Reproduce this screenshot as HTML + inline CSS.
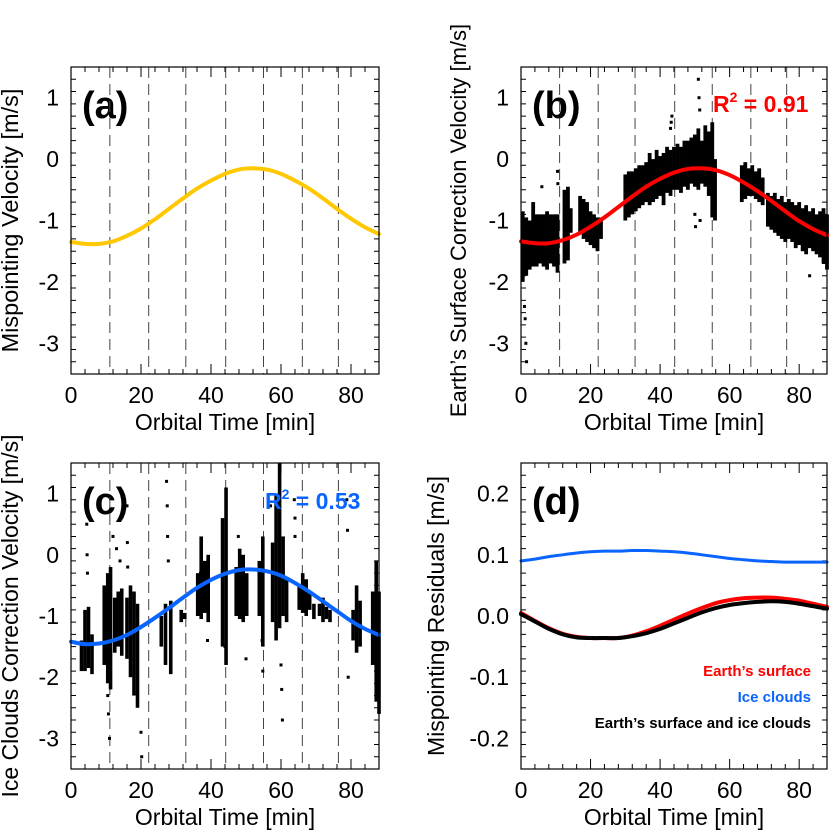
<!DOCTYPE html>
<html><head><meta charset="utf-8">
<style>
html,body{margin:0;padding:0;background:#fff;}
svg{display:block;font-family:"Liberation Sans",Arial,sans-serif;}
</style></head>
<body>
<svg id="fig" width="836" height="837" viewBox="0 0 836 837" xmlns="http://www.w3.org/2000/svg"></svg>
<script>
// ---- data ----
const tGrid = [0,4,8,12,16,20,24,28,32,36,40,44,48,52,56,60,64,68,72,76,80,84,88];
const mispointA = [-1.35,-1.38,-1.38,-1.34,-1.25,-1.13,-0.98,-0.81,-0.64,-0.48,-0.35,-0.24,-0.17,-0.15,-0.17,-0.24,-0.35,-0.48,-0.64,-0.81,-0.97,-1.11,-1.22];
const fitB = [-1.34,-1.37,-1.37,-1.32,-1.23,-1.10,-0.95,-0.78,-0.61,-0.45,-0.32,-0.22,-0.16,-0.15,-0.18,-0.26,-0.38,-0.52,-0.68,-0.85,-1.01,-1.14,-1.24];
const fitC = [-1.42,-1.46,-1.45,-1.40,-1.31,-1.18,-1.03,-0.87,-0.70,-0.54,-0.41,-0.31,-0.25,-0.24,-0.27,-0.34,-0.46,-0.60,-0.76,-0.92,-1.08,-1.21,-1.31];
const resSurface = [0.005,-0.008,-0.020,-0.029,-0.034,-0.036,-0.036,-0.036,-0.032,-0.025,-0.016,-0.006,0.004,0.013,0.021,0.026,0.029,0.030,0.030,0.028,0.025,0.020,0.015];
const resIce = [0.090,0.093,0.097,0.100,0.103,0.105,0.106,0.106,0.107,0.107,0.106,0.105,0.103,0.100,0.097,0.094,0.092,0.090,0.089,0.088,0.088,0.088,0.088];
const resBoth = [0.003,-0.009,-0.021,-0.030,-0.035,-0.036,-0.036,-0.036,-0.033,-0.028,-0.021,-0.012,-0.003,0.006,0.013,0.018,0.021,0.023,0.024,0.023,0.020,0.016,0.012];
const orbitMarks = [11.1,22.2,32.8,44.2,55.0,66.1,76.4];
// scatter envelopes panel (b): time, low, high
const binT_B = [0.5,1.5,2.5,3.5,4.5,5.5,6.5,7.5,8.5,9.5,10.5,12.5,13.5,14.3,17,18,19,20,21,22,23,30,31,32,33,34,35,36,37,38,39,40,41,42,43,44,45,46,47,48,49,50,51,52,53,54,55,55.8,63.5,64.5,65.5,66.5,67.5,68.5,69.5,71,72,73,74,75,76,77,78,79,80,81,82,83,84,85,86,87,88];
const binLo_B = [-2.0,-1.9,-1.8,-1.75,-1.75,-1.7,-1.75,-1.8,-1.7,-1.75,-1.85,-1.7,-1.65,-1.2,-1.2,-1.3,-1.35,-1.4,-1.45,-1.5,-1.3,-1.0,-0.95,-0.9,-0.85,-0.8,-0.75,-0.7,-0.75,-0.7,-0.65,-0.6,-0.75,-0.55,-0.6,-0.5,-0.5,-0.55,-0.45,-0.5,-0.4,-0.45,-0.5,-0.4,-0.45,-0.6,-0.95,-1.0,-0.7,-0.65,-0.6,-0.6,-0.65,-0.7,-0.75,-1.1,-1.15,-1.2,-1.25,-1.3,-1.35,-1.3,-1.35,-1.45,-1.4,-1.5,-1.55,-1.45,-1.5,-1.55,-1.6,-1.7,-1.8];
const binHi_B = [-0.85,-0.95,-1.0,-0.7,-0.9,-0.9,-0.9,-0.85,-0.9,-0.9,-0.9,-0.5,-0.45,-0.8,-0.6,-0.65,-0.7,-0.85,-0.9,-0.95,-0.95,-0.25,-0.2,-0.2,-0.15,-0.1,-0.1,-0.05,0.1,0.0,0.15,0.05,0.1,0.2,0.15,0.2,0.25,0.2,0.3,0.3,0.35,0.4,0.5,0.3,0.55,0.45,0.6,0.0,-0.1,-0.05,-0.15,-0.1,-0.2,-0.15,-0.3,-0.55,-0.6,-0.55,-0.65,-0.6,-0.7,-0.65,-0.7,-0.75,-0.7,-0.8,-0.75,-0.85,-0.8,-0.9,-0.85,-0.8,-0.9];
const outT_B = [1,1.2,1.4,1.6,6,10.5,10.6,35,43,43.2,43.4,50,50.2,51,51.2,51.4,51.5,83];
const outV_B = [-2.4,-2.6,-3.0,-3.3,-0.45,-0.2,-0.4,-0.5,0.5,0.6,0.7,-0.9,-1.1,1.3,1.0,0.8,-1.0,-1.9];
// panel (c) columns: time, low, high
const binT_C = [3,4,5,6,9.5,10.5,11.3,12.5,13.5,14.5,16,17,18,19,25.8,27,28.5,31.5,32.5,36.2,37.2,38.2,39.2,43.3,44.3,47.2,48.2,49.2,50.2,53.8,54.8,57.6,58.6,59.6,60.6,61.6,65.2,66.2,67.2,68.2,69.4,71,72,73,74,80.6,81.6,82.6,86.2,87.2,88];
const binLo_C = [-1.9,-1.9,-1.85,-1.95,-1.8,-2.1,-2.2,-1.6,-1.5,-1.65,-1.7,-2.0,-2.3,-2.5,-1.5,-1.8,-1.95,-1.1,-1.05,-1.0,-1.05,-0.95,-1.1,-1.5,-1.8,-1.0,-1.05,-1.1,-1.0,-1.0,-1.5,-1.1,-1.4,-1.2,-1.0,-1.1,-0.9,-0.95,-1.0,-0.9,-1.05,-1.0,-1.1,-1.05,-1.1,-1.4,-1.6,-1.5,-1.8,-2.4,-2.6];
const binHi_C = [-1.4,-0.9,-0.85,-1.3,-0.5,-0.3,-0.2,-0.7,-0.6,-0.55,-0.7,-0.5,-0.6,-0.8,-1.0,-0.8,-0.75,-0.9,-0.95,-0.3,0.3,-0.1,0.0,0.6,1.1,-0.2,0.1,0.0,-0.3,-0.1,0.3,0.2,1.0,1.5,0.3,-0.4,-0.5,-0.3,-0.4,-0.6,-0.8,-0.8,-0.7,-0.85,-0.9,-0.9,-0.5,-0.75,-0.6,-0.1,-0.6];
const outT_C = [4.5,4.6,4.7,10.5,10.7,11,12,13,14,16,16.1,16.2,20,20.2,27.3,27.5,27.6,27.8,37,39,44,47.8,50,54.6,54.8,57,60,60.2,60.4,63.8,64,64,78.8,79,79.2];
const outV_C = [0.5,0.0,-0.3,-2.3,-2.6,-3.0,0.3,0.1,-0.1,0.8,0.2,-0.2,-2.9,-3.3,1.2,0.8,0.3,-0.1,-0.3,-1.4,-1.5,0.3,-1.7,-1.4,-1.9,0.8,-1.8,-2.2,-2.7,0.9,0.6,0.3,0.9,0.4,-2.0];
const xTicks = [0,20,40,60,80];
const yTicksV = [1,0,-1,-2,-3];
const yTicksR = [0.2,0.1,0.0,-0.1,-0.2];
const yTickLabelsR = ['0.2','0.1','0.0','-0.1','-0.2'];

const NS='http://www.w3.org/2000/svg';
const svg=document.getElementById('fig');
function mk(tag,attrs,parent){const e=document.createElementNS(NS,tag);for(const k in attrs)e.setAttribute(k,attrs[k]);(parent||svg).appendChild(e);return e;}

function panel(id,L,R,T,B,ymin,ymax,yMajor,yMinor,yTickLabs,yTitle,label,titleOff,titleSize){
  const g=mk('g',{});
  
  
  const xmin=0,xmax=88;
  const sx=v=>L+(v-xmin)/(xmax-xmin)*(R-L);
  const sy=v=>B-(v-ymin)/(ymax-ymin)*(B-T);
  let tk='';
  for(let v=0;v<=xmax+1e-9;v+=4){const x=sx(v);const len=(Math.abs(v%20)<1e-6)?10:5;tk+=`M${x},${B}v${-len}M${x},${T}v${len}`;}
  const n=Math.round((ymax-ymin)/yMinor);
  for(let i=0;i<=n;i++){const v=ymin+i*yMinor;const y=sy(v);const maj=yMajor.some(m=>Math.abs(m-v)<1e-6);const len=maj?10:5;tk+=`M${L},${y}h${len}M${R},${y}h${-len}`;}
  const ticks=mk('path',{d:tk,stroke:'#000','stroke-width':1,fill:'none'},g);
  
  
  xTicks.forEach(v=>{const t=mk('text',{x:sx(v),y:B+29,'font-size':23,'text-anchor':'middle'},g);t.textContent=v;
    
    });
  yMajor.forEach((v,i)=>{const t=mk('text',{x:L-12,y:sy(v)+8,'font-size':23,'text-anchor':'end'},g);t.textContent=yTickLabs[i];
    
    });
  const xt=mk('text',{x:(L+R)/2,y:B+56,'font-size':23,'text-anchor':'middle'},g);xt.textContent='Orbital Time [min]';
  
  
  const yt=mk('text',{x:0,y:0,'font-size':titleSize,'text-anchor':'middle',transform:`translate(${L-titleOff},${(T+B)/2}) rotate(-90)`},g);yt.textContent=yTitle;
  
  
  const lb=mk('text',{x:L+11,y:T+51,'font-size':38,'font-weight':'bold'},g);lb.textContent=label;
  
  
  return {g,sx,sy,L,R,T,B};
}
function dashes(p){
  orbitMarks.forEach(m=>{const l=mk('line',{x1:p.sx(m),x2:p.sx(m),y1:p.T,y2:p.B,stroke:'#444','stroke-width':1,'stroke-dasharray':'11,6'},p.g);
    
    });
}
function curve(p,ys,color,w,name){
  const pts=tGrid.map((t,i)=>[p.sx(t),p.sy(ys[i])]);
  let d=`M${pts[0][0]},${pts[0][1]}`;
  for(let i=0;i<pts.length-1;i++){const p0=pts[Math.max(0,i-1)],p1=pts[i],p2=pts[i+1],p3=pts[Math.min(pts.length-1,i+2)];
    d+=`C${p1[0]+(p2[0]-p0[0])/6},${p1[1]+(p2[1]-p0[1])/6} ${p2[0]-(p3[0]-p1[0])/6},${p2[1]-(p3[1]-p1[1])/6} ${p2[0]},${p2[1]}`;}
  const c=mk('path',{d,stroke:color,'stroke-width':w,fill:'none','stroke-linecap':'round'},p.g);
  
  
}
function scatter(p,T,lo,hi,oT,oV,wid){
  const gg=mk('g',{fill:'#000'},p.g);
  
  
  T.forEach((t,i)=>{const y1=p.sy(hi[i]),y2=p.sy(lo[i]);
    const r=mk('rect',{x:p.sx(t)-wid/2,y:y1,width:wid,height:Math.max(1,y2-y1)},gg);
    
    });
  oT.forEach((t,i)=>{const r=mk('rect',{x:p.sx(t)-1.5,y:p.sy(oV[i])-1.5,width:3,height:3},gg);
    
    });
}
function frame(p){const f=mk('rect',{x:p.L,y:p.T,width:p.R-p.L,height:p.B-p.T,fill:'none',stroke:'#000','stroke-width':1.2},p.g);
  
  }

const yLabV=yTicksV.map(String);

// (a)
const pa=panel('a',71,379,67,374,-3.5,1.5,yTicksV,0.2,yLabV,'Mispointing Velocity [m/s]','(a)',53,23.5);
dashes(pa); curve(pa,mispointA,'#ffc800',4,'mispointing-curve'); frame(pa);
// (b)
const pb=panel('b',521,827,67,374,-3.5,1.5,yTicksV,0.2,yLabV,'Earth\u2019s Surface Correction Velocity [m/s]','(b)',55,22);
dashes(pb); scatter(pb,binT_B,binLo_B,binHi_B,outT_B,outV_B,3.8); curve(pb,fitB,'#ff0000',4,'surface-fit-curve'); frame(pb);
const r2b=mk('text',{x:713,y:112,'font-size':23,'font-weight':'bold',fill:'#ff0000'},pb.g);
r2b.innerHTML='R<tspan dy="-10" font-size="14">2</tspan><tspan dy="10"> = 0.91</tspan>';


// (c)
const pc=panel('c',71,379,463,769,-3.5,1.5,yTicksV,0.2,yLabV,'Ice Clouds Correction Velocity [m/s]','(c)',53,23);
dashes(pc); scatter(pc,binT_C,binLo_C,binHi_C,outT_C,outV_C,3.6); curve(pc,fitC,'#0a64ff',4,'ice-fit-curve'); frame(pc);
const r2c=mk('text',{x:265,y:509,'font-size':23,'font-weight':'bold',fill:'#0a64ff'},pc.g);
r2c.innerHTML='R<tspan dy="-10" font-size="14">2</tspan><tspan dy="10"> = 0.53</tspan>';


// (d)
const pd=panel('d',521,827,463,769,-0.25,0.25,yTicksR,0.02,yTickLabelsR,'Mispointing Residuals [m/s]','(d)',77,23);
curve(pd,resIce,'#0a64ff',3,'ice-residual-curve');
curve(pd,resSurface,'#ff0000',4,'surface-residual-curve');
curve(pd,resBoth,'#000000',4,'combined-residual-curve');
frame(pd);
const legItems=[['Earth\u2019s surface','#ff0000',676],['Ice clouds','#0a64ff',702],['Earth\u2019s surface and ice clouds','#000',728]];
legItems.forEach(it=>{const t=mk('text',{x:811,y:it[2],'font-size':15,'font-weight':'bold','text-anchor':'end',fill:it[1]},pd.g);t.textContent=it[0];
  
  });
</script>
</body></html>
